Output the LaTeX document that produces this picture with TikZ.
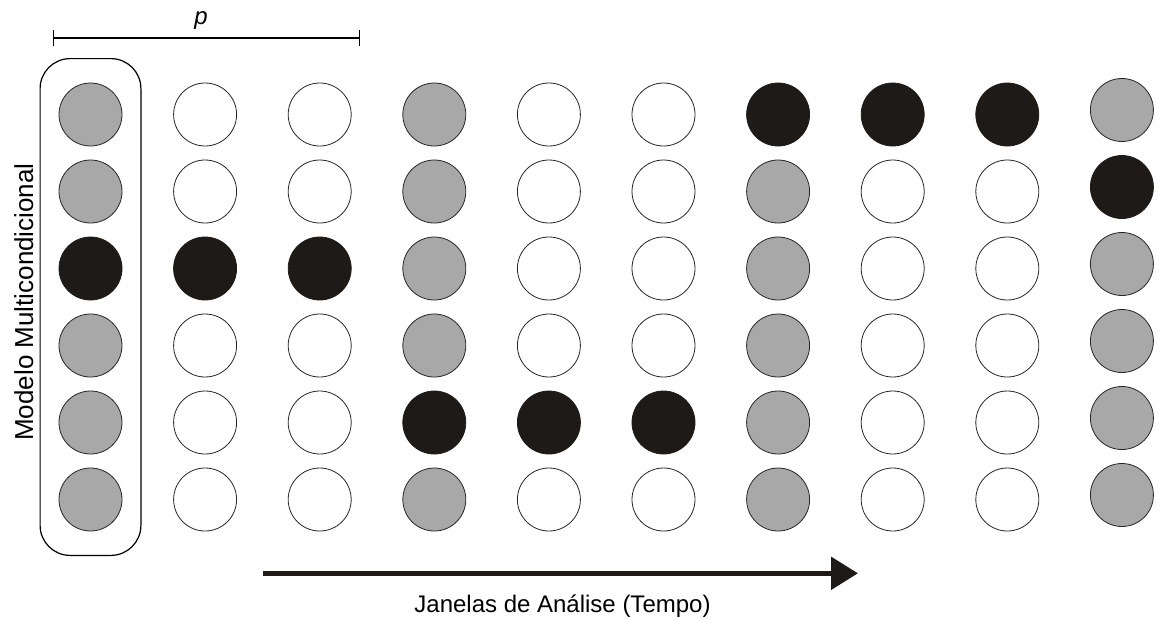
\documentclass[tikz,border=0pt]{standalone}
\usepackage{fontspec}
\setmainfont{Liberation Sans}
\usetikzlibrary{positioning, arrows.meta, fit, calc}
\definecolor{dotgray}{HTML}{A8A8A8}
\definecolor{dotblack}{HTML}{1E1A17}

\begin{document}
\begin{tikzpicture}[x=1pt, y=-1pt,
    dot/.style={circle, draw=black!85, line width=0.8pt, minimum size=63pt, inner sep=0pt},
    dotg/.style={dot, fill=dotgray},
    dotw/.style={dot, fill=white},
    dotb/.style={dot, fill=dotblack, draw=dotblack},
    txt/.style={font=\fontsize{24}{28}\selectfont, inner sep=0pt}]
    \useasboundingbox (0,0) rectangle (1159,619);

    % janelas (colunas), de cima para baixo
    \foreach \c/\dy/\cols in {1/0/{g,g,b,g,g,g}, 2/0/{w,w,b,w,w,w}, 3/0/{w,w,b,w,w,w},
                              4/0/{g,g,g,g,b,g}, 5/0/{w,w,w,w,b,w}, 6/0/{w,w,w,w,b,w},
                              7/0/{b,g,g,g,g,g}, 8/0/{b,w,w,w,w,w}, 9/0/{b,w,w,w,w,w},
                              10/-4.5/{g,b,g,g,g,g}} {
        \foreach \s [count=\r] in \cols
            \node[dot\s] (c\c-\r) at ({90.5+114.6*(\c-1)}, {114.5+77*(\r-1)+\dy}) {};
    }

    \node[draw, line width=1.2pt, rounded corners=30pt, inner xsep=18.5pt, inner ysep=24pt,
          fit=(c1-1)(c1-6)] (model) {};

    \coordinate (pl) at (53,38);
    \coordinate (pr) at (360,38);
    \draw[line width=1.2pt, {Bar[width=16pt]}-{Bar[width=16pt]}] (pl) -- (pr);
    \node[txt, anchor=base] (p) at (201,24) {\itshape p};

    \coordinate (t0) at (263,573.3);
    \coordinate (t1) at (858,573.3);
    \draw[dotblack, line width=5.5pt, -{Triangle[length=27pt, width=32pt]}] (t0) -- (t1);
    \node[txt, anchor=base] (time) at (562.5,612) {Janelas de Análise (Tempo)};

    \node[txt, font=\fontsize{26}{30}\selectfont, rotate=90, anchor=base] (modellbl) at (33,302) {Modelo Multicondicional};
\end{tikzpicture}
\end{document}
